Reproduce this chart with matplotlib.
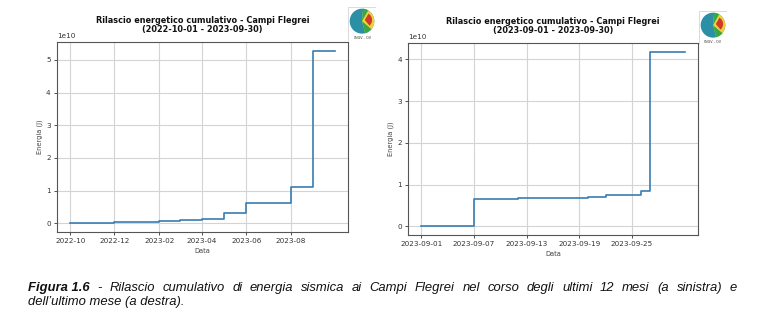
import datetime as dt
import numpy as np
import matplotlib
matplotlib.use('Agg')
import matplotlib.pyplot as plt
import matplotlib.dates as mdates
from matplotlib.patches import Circle, Wedge, Rectangle

# ---- data (energy in J) ----
left_dates = [dt.datetime(2022, 10, 1), dt.datetime(2022, 11, 1), dt.datetime(2022, 12, 1),
              dt.datetime(2023, 1, 1), dt.datetime(2023, 2, 1), dt.datetime(2023, 3, 1),
              dt.datetime(2023, 4, 1), dt.datetime(2023, 5, 1), dt.datetime(2023, 6, 1),
              dt.datetime(2023, 7, 1), dt.datetime(2023, 8, 1), dt.datetime(2023, 9, 1),
              dt.datetime(2023, 10, 1)]
left_energy = [0.0, 0.02e10, 0.03e10, 0.04e10, 0.06e10, 0.10e10, 0.13e10,
               0.33e10, 0.61e10, 0.61e10, 1.10e10, 5.28e10, 5.28e10]
left_ticks = [dt.datetime(2022, 10, 1), dt.datetime(2022, 12, 1), dt.datetime(2023, 2, 1),
              dt.datetime(2023, 4, 1), dt.datetime(2023, 6, 1), dt.datetime(2023, 8, 1)]

right_days = [dt.datetime(2023, 9, d) for d in range(1, 31)] + [dt.datetime(2023, 10, 1)]
right_energy = [0.0, 0.0, 0.0, 0.0, 0.0, 0.0,
                0.65e10, 0.65e10, 0.65e10, 0.65e10, 0.65e10,
                0.68e10, 0.68e10, 0.68e10, 0.68e10, 0.68e10, 0.68e10, 0.68e10, 0.68e10, 0.69e10,
                0.69e10, 0.74e10, 0.74e10, 0.76e10, 0.76e10, 0.85e10,
                4.17e10, 4.17e10, 4.18e10, 4.18e10, 4.18e10]
right_ticks = [dt.datetime(2023, 9, d) for d in (1, 7, 13, 19, 25)]

titles = ['Rilascio energetico cumulativo - Campi Flegrei\n(2022-10-01 - 2023-09-30)',
          'Rilascio energetico cumulativo - Campi Flegrei\n(2023-09-01 - 2023-09-30)']
caption_bold = 'Figura 1.6'
caption_line1 = ('- Rilascio cumulativo di energia sismica ai Campi Flegrei nel corso '
                 'degli ultimi 12 mesi (a sinistra) e')
caption_line2 = 'dell\u2019ultimo mese (a destra).'

LINE = '#3a7db3'
W, H = 767, 328

fig = plt.figure(figsize=(7.67, 3.28), dpi=100)
fig.patch.set_facecolor('white')


def px(x0, y0, x1, y1):
    return [x0 / W, 1 - y1 / H, (x1 - x0) / W, (y1 - y0) / H]


def style_axes(ax, title):
    ax.grid(True, color='#d4d4d4', linewidth=0.8)
    ax.set_axisbelow(True)
    for s in ax.spines.values():
        s.set_color('#555555')
        s.set_linewidth(0.8)
    ax.tick_params(labelsize=5.2, colors='#333333', length=2.5, width=0.6, pad=2)
    ax.yaxis.get_offset_text().set_fontsize(5.2)
    ax.yaxis.get_offset_text().set_color('#333333')
    ax.set_ylabel('Energia (J)', fontsize=4.8, color='#444444', labelpad=2)
    ax.set_xlabel('Data', fontsize=4.8, color='#444444', labelpad=3)
    ax.set_title(title, fontsize=5.9, fontweight='bold', color='#111111', pad=7,
                 linespacing=1.05)


def draw_logo(x0, y0, x1, y1):
    lax = fig.add_axes(px(x0, y0, x1, y1))
    lax.set_xlim(0, 1)
    lax.set_ylim(0, 1.2)
    lax.axis('off')
    lax.add_patch(Rectangle((0, 0), 1, 1.2, facecolor='white', edgecolor='#cccccc', lw=0.5))
    c = (0.5, 0.7)
    lax.add_patch(Circle(c, 0.44, facecolor='#2b8fa6', edgecolor='none'))
    lax.add_patch(Wedge(c, 0.44, -75, 85, facecolor='#e8d53a', edgecolor='none'))
    lax.add_patch(Wedge((0.6, 0.74), 0.26, -50, 60, facecolor='#d43a2c', edgecolor='none'))
    lax.add_patch(Wedge(c, 0.44, -75, -40, facecolor='#3aa64a', edgecolor='none'))
    lax.add_patch(Wedge(c, 0.44, 60, 85, facecolor='#3aa64a', edgecolor='none'))
    lax.text(0.5, 0.11, 'INGV - OV', fontsize=2.4, ha='center', va='center', color='#333333')


# left chart
ax1 = fig.add_axes(px(57, 42, 348, 232))
ax1.plot(left_dates, left_energy, drawstyle='steps-post', color=LINE, lw=1.2)
ax1.set_xticks(left_ticks)
ax1.xaxis.set_major_formatter(mdates.DateFormatter('%Y-%m'))
style_axes(ax1, titles[0])
draw_logo(348, 7, 376, 41)

# right chart
ax2 = fig.add_axes(px(408, 43, 698, 235))
ax2.plot(right_days, right_energy, drawstyle='steps-post', color=LINE, lw=1.2)
ax2.set_xticks(right_ticks)
ax2.xaxis.set_major_formatter(mdates.DateFormatter('%Y-%m-%d'))
ax2.set_yticks([0, 1e10, 2e10, 3e10, 4e10])
style_axes(ax2, titles[1])
draw_logo(699, 11, 727, 45)

# caption, justified first line
fig.canvas.draw()
renderer = fig.canvas.get_renderer()
cap_font = dict(family='Liberation Sans', fontsize=9.4, style='italic', color='#111111')
xl, xr = 28 / W, 737 / W
y1, y2 = 1 - 288 / H, 1 - 302 / H
words = [caption_bold] + caption_line1.split(' ')
texts = []
for i, w in enumerate(words):
    kw = dict(cap_font)
    if i == 0:
        kw['fontweight'] = 'bold'
    texts.append(fig.text(0, y1, w, va='center', ha='left', **kw))
widths = [t.get_window_extent(renderer).width / fig.bbox.width for t in texts]
gap = (xr - xl - sum(widths)) / (len(words) - 1)
x = xl
for t, w in zip(texts, widths):
    t.set_x(x)
    x += w + gap
fig.text(xl, y2, caption_line2, va='center', ha='left', **cap_font)

fig.savefig('out.png', dpi=100, facecolor='white')
